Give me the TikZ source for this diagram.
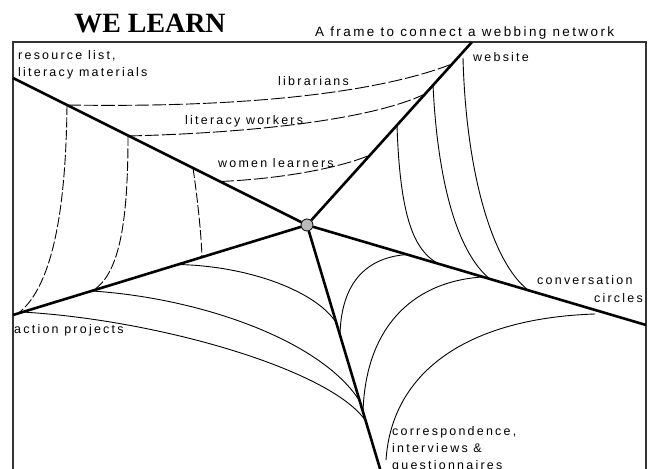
\documentclass[tikz,border=0pt]{standalone}
\usepackage{fontspec}
\setmainfont{Liberation Sans}
\newfontfamily\lblfont[LetterSpace=18]{Liberation Sans}
\newfontfamily\headfont{Liberation Serif}

\tikzset{
  frame/.style={line width=1.2bp, black!80},
  spoke/.style={line width=2.6bp},
  thread/.style={line width=0.9bp},
  dashthread/.style={thread, dash pattern=on 14bp off 3bp},
  dropthread/.style={thread, dash pattern=on 10bp off 2.5bp},
  hub/.style={circle, draw, line width=0.8bp, fill=gray!55, minimum size=12bp, inner sep=0pt},
  lbl/.style={inner sep=0pt, anchor=base west, font=\lblfont\fontsize{12.5}{15}\selectfont},
}

\begin{document}
\begin{tikzpicture}[x=1bp, y=-1bp]
  \useasboundingbox (0,0) rectangle (648,469);

  % titles
  \node[inner sep=0pt, anchor=base, font=\headfont\bfseries\fontsize{28}{30}\selectfont] (title) at (150,33) {WE LEARN};
  \node[lbl, font=\lblfont\fontsize{13.5}{15}\selectfont] (subtitle) at (315,36.5) {A frame to connect a webbing network};

  % frame
  \draw[frame] (13,472) -- (13,42) -- (646,42) -- (646,472);

  % spoke ends
  \coordinate (e1) at (13,78);
  \coordinate (e2) at (472,42);
  \coordinate (e3) at (646,325);
  \coordinate (e4) at (381,472);
  \coordinate (e5) at (13,315);

  % points on the spokes
  \coordinate (a1) at (67,105);
  \coordinate (a2) at (128,136);
  \coordinate (a3) at (193,168);
  \coordinate (a4) at (220,181.5);
  \coordinate (b1) at (452,64);
  \coordinate (b2) at (425,94);
  \coordinate (b3) at (370,155);
  \coordinate (c1) at (397,125);
  \coordinate (c2) at (433,85);
  \coordinate (c3) at (463,58);
  \coordinate (d1) at (437,263);
  \coordinate (d2) at (490,279);
  \coordinate (d3) at (528,290);
  \coordinate (f1) at (407,254.5);
  \coordinate (f2) at (482,277);
  \coordinate (f3) at (595,314);
  \coordinate (g1) at (340,335);
  \coordinate (g2) at (363,413);
  \coordinate (g3) at (386,460);
  \coordinate (k1) at (337,324);
  \coordinate (k2) at (359,400);
  \coordinate (k3) at (365,420);
  \coordinate (h1) at (178,264.5);
  \coordinate (h2) at (92,291);
  \coordinate (h3) at (22,312);
  \coordinate (m1) at (18,313.5);
  \coordinate (m3) at (202,257);

  % upper left: dashed threads
  \draw[dashthread] (a1) .. controls (250,108) and (380,92) .. (b1);
  \draw[dashthread] (a2) .. controls (250,133) and (370,120) .. (b2);
  \draw[dashthread] (a4) .. controls (280,179) and (340,168) .. (b3);
  \draw[dropthread] (a1) .. controls (66,200) and (55,285) .. (m1);
  \draw[dropthread] (a2) .. controls (128,220) and (120,275) .. (h2);
  \draw[dropthread] (a3) .. controls (197,195) and (201,230) .. (m3);

  % right
  \draw[thread] (c1) .. controls (400,220) and (415,250) .. (d1);
  \draw[thread] (c2) .. controls (438,190) and (460,255) .. (d2);
  \draw[thread] (c3) .. controls (466,172) and (492,262) .. (d3);

  % lower right
  \draw[thread] (g1) .. controls (341,290) and (360,258) .. (f1);
  \draw[thread] (g2) .. controls (365,330) and (410,282) .. (f2);
  \draw[thread] (g3) .. controls (392,370) and (470,318) .. (f3);

  % lower left
  \draw[thread] (h1) .. controls (250,266) and (318,292) .. (k1);
  \draw[thread] (h2) .. controls (200,298) and (320,340) .. (k2);
  \draw[thread] (h3) .. controls (160,320) and (330,370) .. (k3);

  % hub and spokes
  \node[hub] (hub) at (307,225) {};
  \foreach \e in {e1,e2,e3,e4,e5}
    \draw[spoke] (hub) -- (\e);

  % labels
  \node[lbl] (res1) at (18,60) {resource list,};
  \node[lbl] (res2) at (18,77) {literacy materials};
  \node[lbl] (lib) at (278,86) {librarians};
  \node[lbl] (work) at (185,125) {literacy workers};
  \node[lbl] (women) at (218,168) {women learners};
  \node[lbl] (web) at (473,62) {website};
  \node[lbl] (conv1) at (537,285) {conversation};
  \node[lbl, anchor=base east] (conv2) at (643,303) {circles};
  \node[lbl] (act) at (14,333) {action projects};
  \node[lbl] (corr1) at (392,435) {correspondence,};
  \node[lbl] (corr2) at (392,452) {interviews \&};
  \node[lbl] (corr3) at (392,469) {questionnaires};
\end{tikzpicture}
\end{document}
